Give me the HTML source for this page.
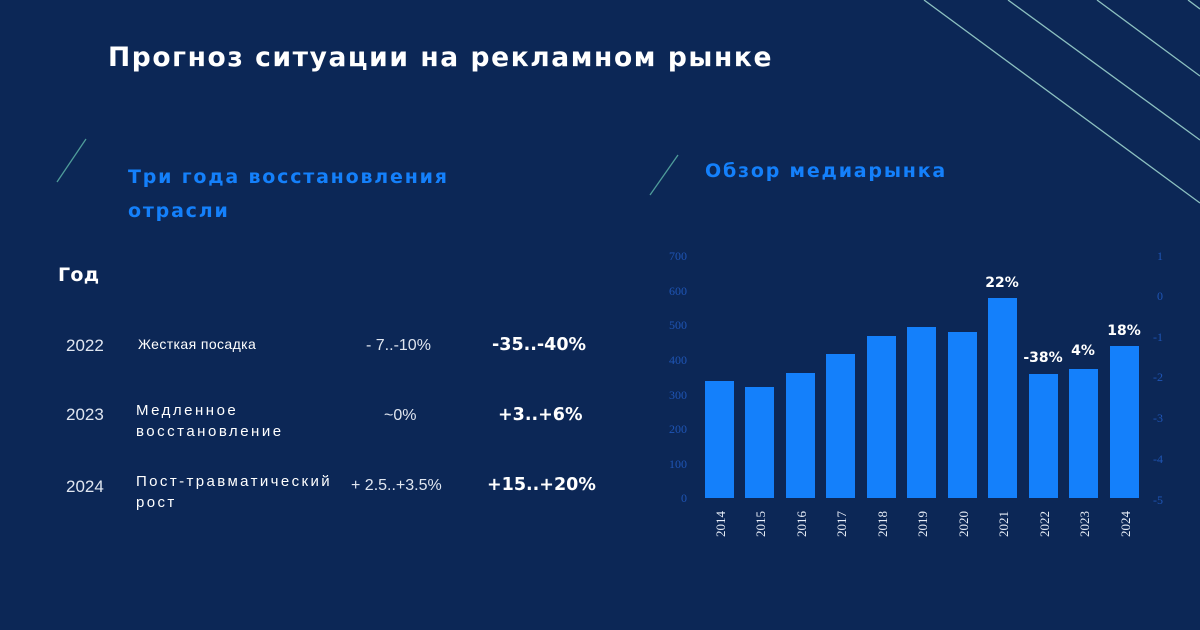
<!DOCTYPE html>
<html><head><meta charset="utf-8"><style>
html,body{margin:0;padding:0}
body{width:1200px;height:630px;background:#0c2756;position:relative;overflow:hidden;font-family:"Liberation Sans","DejaVu Sans",sans-serif}
.t{position:absolute;white-space:nowrap}
.h{font-family:"DejaVu Sans",sans-serif;font-weight:bold}
</style></head><body>
<svg width="1200" height="630" style="position:absolute;left:0;top:0">
<g stroke="#8cc0c0" stroke-width="1.3" fill="none">
<line x1="924" y1="0" x2="1200" y2="203"/>
<line x1="1008" y1="0" x2="1200" y2="140"/>
<line x1="1097" y1="0" x2="1200" y2="76"/>
<line x1="1188" y1="0" x2="1200" y2="9"/>
<line x1="57" y1="182" x2="86" y2="139" stroke="#4f9c9a"/>
<line x1="650" y1="195" x2="678" y2="155" stroke="#4f9c9a"/>
</g>
<g fill="#1480fb">
<rect x="705" y="381" width="29" height="117"/>
<rect x="745" y="387" width="29" height="111"/>
<rect x="786" y="373" width="29" height="125"/>
<rect x="826" y="354" width="29" height="144"/>
<rect x="867" y="336" width="29" height="162"/>
<rect x="907" y="327" width="29" height="171"/>
<rect x="948" y="332" width="29" height="166"/>
<rect x="988" y="298" width="29" height="200"/>
<rect x="1029" y="374" width="29" height="124"/>
<rect x="1069" y="369" width="29" height="129"/>
<rect x="1110" y="346" width="29" height="152"/>
</g>
<g fill="#1f55b5" font-family="Liberation Serif,serif" font-size="12" text-anchor="end">
<text x="687" y="260">700</text><text x="687" y="295">600</text><text x="687" y="329">500</text><text x="687" y="364">400</text><text x="687" y="399">300</text><text x="687" y="433">200</text><text x="687" y="468">100</text><text x="687" y="502">0</text>
</g>
<g fill="#1f55b5" font-family="Liberation Serif,serif" font-size="12">
<text x="1157" y="260">1</text><text x="1157" y="300">0</text><text x="1153" y="341">-1</text><text x="1153" y="381">-2</text><text x="1153" y="422">-3</text><text x="1153" y="463">-4</text><text x="1153" y="504">-5</text>
</g>
<g fill="#e8eef8" font-family="Liberation Serif,serif" font-size="13">
<text transform="translate(725,537) rotate(-90)">2014</text>
<text transform="translate(765,537) rotate(-90)">2015</text>
<text transform="translate(806,537) rotate(-90)">2016</text>
<text transform="translate(846,537) rotate(-90)">2017</text>
<text transform="translate(887,537) rotate(-90)">2018</text>
<text transform="translate(927,537) rotate(-90)">2019</text>
<text transform="translate(968,537) rotate(-90)">2020</text>
<text transform="translate(1008,537) rotate(-90)">2021</text>
<text transform="translate(1049,537) rotate(-90)">2022</text>
<text transform="translate(1089,537) rotate(-90)">2023</text>
<text transform="translate(1130,537) rotate(-90)">2024</text>
</g>
<g fill="#fff" font-weight="bold" font-size="14" text-anchor="middle" font-family="DejaVu Sans,sans-serif">
<text x="1002" y="287">22%</text>
<text x="1043" y="362">-38%</text>
<text x="1083" y="355">4%</text>
<text x="1124" y="335">18%</text>
</g>
</svg>
<div class="t h" style="left:108px;top:42px;font-size:26.5px;color:#fff;letter-spacing:1.6px">Прогноз ситуации на рекламном рынке</div>
<div class="t h" style="left:128px;top:160px;font-size:19px;color:#1480fb;line-height:34px;letter-spacing:1.8px">Три года восстановления<br>отрасли</div>
<div class="t h" style="left:705px;top:160px;font-size:19px;color:#1480fb;letter-spacing:1.8px">Обзор медиарынка</div>
<div class="t h" style="left:58px;top:264px;font-size:19px;color:#fff;letter-spacing:0.3px">Год</div>
<div class="t" style="left:66px;top:336px;font-size:17px;color:#e0e6f0">2022</div>
<div class="t" style="left:66px;top:405px;font-size:17px;color:#e0e6f0">2023</div>
<div class="t" style="left:66px;top:477px;font-size:17px;color:#e0e6f0">2024</div>
<div class="t" style="left:138px;top:336px;font-size:14px;color:#fff;letter-spacing:0.4px">Жесткая посадка</div>
<div class="t" style="left:136px;top:400px;font-size:15px;color:#fff;line-height:21px;letter-spacing:2.5px">Медленное<br>восстановление</div>
<div class="t" style="left:136px;top:471px;font-size:15px;color:#fff;line-height:21px;letter-spacing:2.4px">Пост-травматический<br>рост</div>
<div class="t" style="left:366px;top:337px;font-size:16px;color:#e0e6f0">- 7..-10%</div>
<div class="t" style="left:384px;top:407px;font-size:16px;color:#e0e6f0">~0%</div>
<div class="t" style="left:351px;top:477px;font-size:16px;color:#e0e6f0">+ 2.5..+3.5%</div>
<div class="t h" style="left:492px;top:335px;font-size:17.5px;color:#fff">-35..-40%</div>
<div class="t h" style="left:498px;top:405px;font-size:17.5px;color:#fff">+3..+6%</div>
<div class="t h" style="left:487px;top:475px;font-size:17.5px;color:#fff">+15..+20%</div>
</body></html>
